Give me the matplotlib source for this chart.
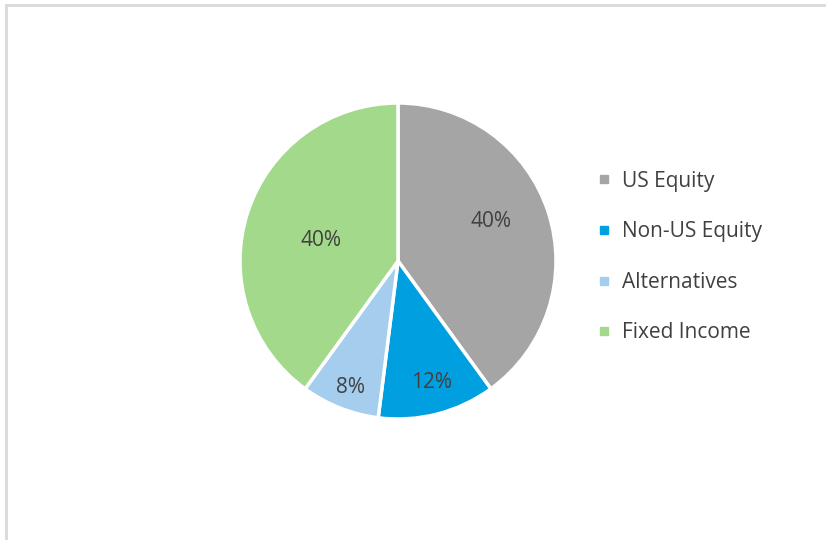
import matplotlib.pyplot as plt
from matplotlib.lines import Line2D

labels = ["US Equity", "Non-US Equity", "Alternatives", "Fixed Income"]
shares = [40, 12, 8, 40]
colors = ["#A5A5A5", "#009FDF", "#A4CDEE", "#A2D98A"]
# where the percentage labels sit inside each slice (fractions of the radius)
label_pos = [(0.59, 0.25), (0.21, -0.77), (-0.30, -0.80), (-0.49, 0.13)]

plt.rcParams['font.family'] = ['Open Sans', 'DejaVu Sans']

fig = plt.figure(figsize=(8.26, 5.40), dpi=100)

# frame of the chart area
fig.add_artist(Line2D([6/826, 6/826], [0, 1 - 5/540], color="#D9D9D9", lw=2))
fig.add_artist(Line2D([6/826, 1], [1 - 5/540, 1 - 5/540], color="#D9D9D9", lw=2))

r = 158
cx, cy = 398, 261
ax = fig.add_axes([(cx - r) / 826, (540 - cy - r) / 540, 2 * r / 826, 2 * r / 540])
wedges, texts, autotexts = ax.pie(
    shares, colors=colors, startangle=90, counterclock=False,
    autopct="%d%%", pctdistance=0.64, radius=1,
    wedgeprops=dict(edgecolor="white", linewidth=2.5),
    textprops=dict(color="#404040", fontsize=15),
)
for t, p in zip(autotexts, label_pos):
    t.set_position(p)
ax.set_xlim(-1, 1)
ax.set_ylim(-1, 1)
ax.set_aspect("equal")
ax.axis("off")

handles = [Line2D([], [], marker="s", linestyle="none", markersize=6,
                  markerfacecolor=c, markeredgecolor=c) for c in colors]
fig.legend(handles, labels, loc="upper left", bbox_to_anchor=(575/826, 1 - 152/540),
           frameon=False, fontsize=15, labelcolor="#404040",
           handletextpad=0.35, labelspacing=1.42, handlelength=1.0)

fig.savefig("out.png", dpi=100)
